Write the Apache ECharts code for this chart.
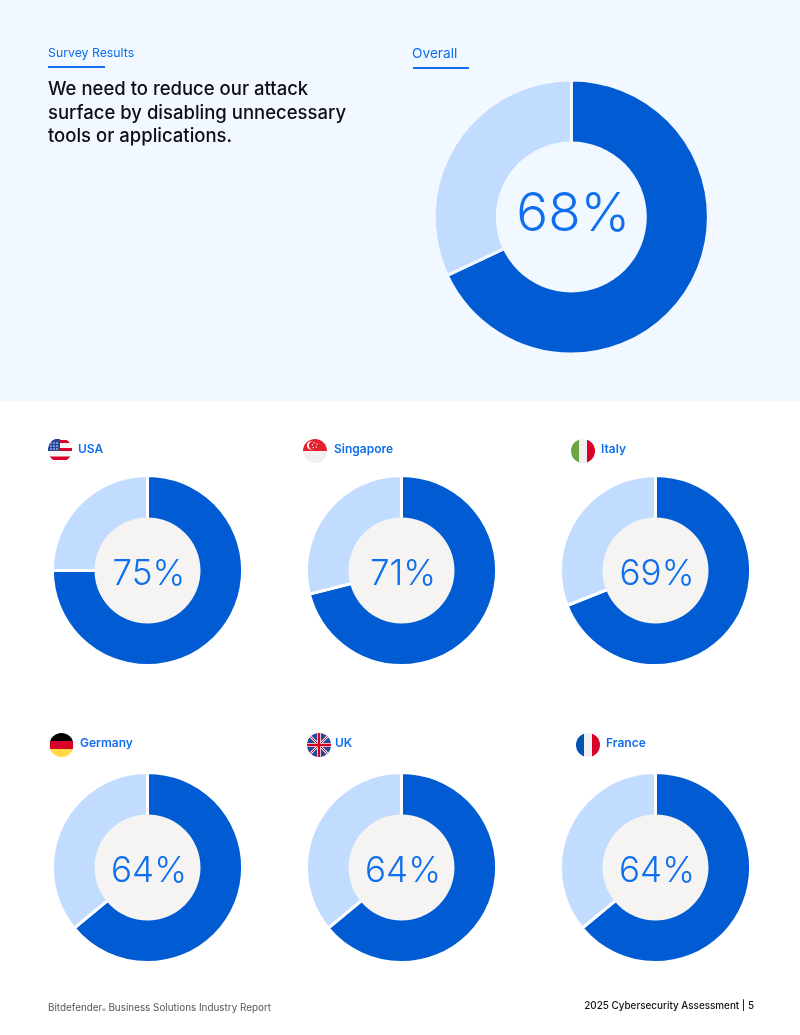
<!DOCTYPE html>
<html>
<head>
<meta charset="utf-8">
<style>html,body{margin:0;padding:0;background:#fff}#chart{width:800px;height:1035px}</style>
<script src="https://cdn.jsdelivr.net/npm/echarts@6/dist/echarts.min.js"></script>
</head>
<body>
<div id="chart"></div>
<script>
// Survey share agreeing with the statement, overall and per country
const overallValue = 68;
const countries = ['USA', 'Singapore', 'Italy', 'Germany', 'UK', 'France'];
const countryValues = [75, 71, 69, 64, 64, 64];
const countryCenters = [[147.5, 570.5], [401.5, 570.5], [655.5, 570.5], [147.5, 867.5], [401.5, 867.5], [655.5, 867.5]];
const labelPositions = [[78, 449], [334, 449], [601, 449], [80, 743], [335, 743], [606, 743]];
const flagPositions = [[60, 450], [315, 451], [583, 451], [61.5, 745], [319, 745], [588, 745]];
const headline = 'We need to reduce our attack\nsurface by disabling unnecessary\ntools or applications.';

const DARK = '#015bd3', LIGHT = '#c2dcff', ACCENT = '#0f6fec', PANEL = '#f2f8ff', HOLE = '#f5f4f2';
const FONT = 'Inter, Roboto, "Noto Sans", sans-serif';
const GAP = 3;

// Flags are small round SVGs, 24 units across
function svgFlag(body) {
  const svg = '<svg xmlns="http://www.w3.org/2000/svg" width="96" height="96" viewBox="0 0 24 24">' +
    '<defs><clipPath id="c"><circle cx="12" cy="12" r="12"/></clipPath></defs><g clip-path="url(#c)">' + body + '</g></svg>';
  return 'data:image/svg+xml;charset=utf-8,' + encodeURIComponent(svg);
}
const flagArt = {
  USA: svgFlag('<rect y="1" width="24" height="21.5" fill="#f4f4f4"/>' +
    '<rect y="2" width="24" height="3" fill="#d80027"/><rect y="10" width="24" height="3" fill="#d80027"/>' +
    '<rect y="18.5" width="24" height="3.5" fill="#d80027"/>' +
    '<rect y="1" width="12" height="12" fill="#234a9a"/>' +
    '<g fill="#e8eefc"><circle cx="3" cy="5" r=".8"/><circle cx="6" cy="5" r=".8"/><circle cx="9" cy="5" r=".8"/>' +
    '<circle cx="3" cy="8" r=".8"/><circle cx="6" cy="8" r=".8"/><circle cx="9" cy="8" r=".8"/>' +
    '<circle cx="3" cy="11" r=".8"/><circle cx="6" cy="11" r=".8"/><circle cx="9" cy="11" r=".8"/></g>'),
  Singapore: svgFlag('<rect width="24" height="24" fill="#f0f0f0"/><rect width="24" height="12" fill="#e8202e"/>' +
    '<circle cx="8" cy="6.5" r="4" fill="#fff"/><circle cx="9.6" cy="6.5" r="3.7" fill="#e8202e"/>' +
    '<g fill="#fff"><circle cx="11" cy="3.8" r=".7"/><circle cx="14" cy="5" r=".7"/><circle cx="13.4" cy="8" r=".7"/><circle cx="10.4" cy="8.6" r=".7"/><circle cx="9.4" cy="6" r=".7"/></g>'),
  Italy: svgFlag('<rect width="8" height="24" fill="#6da544"/><rect x="8" width="8" height="24" fill="#f0f0f0"/><rect x="16" width="8" height="24" fill="#d80027"/>'),
  Germany: svgFlag('<rect width="24" height="8" fill="#000"/><rect y="8" width="24" height="8" fill="#d80027"/><rect y="16" width="24" height="8" fill="#ffda44"/>'),
  UK: svgFlag('<rect width="24" height="24" fill="#234a9a"/>' +
    '<path d="M0 0L24 24M24 0L0 24" stroke="#f0f0f0" stroke-width="2.6"/><path d="M0 0L24 24M24 0L0 24" stroke="#d80027" stroke-width="1"/>' +
    '<path d="M12 0V24M0 12H24" stroke="#f0f0f0" stroke-width="4"/><path d="M12 0V24M0 12H24" stroke="#d80027" stroke-width="2.4"/>'),
  France: svgFlag('<rect width="8" height="24" fill="#0052b4"/><rect x="8" width="8" height="24" fill="#f0f0f0"/><rect x="16" width="8" height="24" fill="#d80027"/>')
};

// One donut. The slice outline separates the two slices; the ring is oversized by half
// the outline so that the outer stroke melts into the background and the inner one
// sits under the hole, which carries the value label on top.
function donut(value, center, outer, inner, pageColor, holeColor, fontSize, labelShift) {
  const ring = {
    type: 'pie', silent: true, center: center, radius: [inner - GAP, outer + GAP / 2], startAngle: 90, clockwise: true, z: 2,
    label: { show: false }, labelLine: { show: false },
    itemStyle: { borderColor: pageColor, borderWidth: GAP },
    data: [
      { value: value, itemStyle: { color: DARK } },
      { value: 100 - value, itemStyle: { color: LIGHT } }
    ]
  };
  const hole = {
    type: 'pie', silent: true, center: center, radius: [0, inner], z: 3,
    labelLine: { show: false },
    label: { show: true, position: 'center', formatter: '{c}%', color: ACCENT, fontFamily: FONT,
      fontSize: fontSize, fontWeight: 300, offset: labelShift },
    itemStyle: { color: holeColor }, data: [{ value: value }]
  };
  return [ring, hole];
}

const series = donut(overallValue, [571.3, 217], 135.6, 75.5, PANEL, PANEL, 53, [2, -2]);
countries.forEach((name, i) => {
  series.push(...donut(countryValues[i], countryCenters[i], 93.6, 53, '#ffffff', HOLE, 35, [1.5, 4]));
});

const graphic = [
  { type: 'rect', shape: { x: 0, y: 0, width: 800, height: 401 }, style: { fill: PANEL }, z: -10 },
  { type: 'text', x: 48, y: 53, style: { text: 'Survey Results', fill: ACCENT, font: '400 12.3px ' + FONT, textVerticalAlign: 'middle' } },
  { type: 'rect', shape: { x: 48, y: 66, width: 57, height: 2 }, style: { fill: ACCENT } },
  { type: 'text', x: 412, y: 54, style: { text: 'Overall', fill: ACCENT, font: '400 13.7px ' + FONT, textVerticalAlign: 'middle' } },
  { type: 'rect', shape: { x: 413, y: 67, width: 56, height: 2 }, style: { fill: ACCENT } },
  { type: 'text', x: 48, y: 78, style: { text: headline, fill: '#0d0d12', font: '500 18.5px ' + FONT, lineHeight: 23.5 } },
  { type: 'text', x: 48, y: 1008, style: {
      text: '{main|Bitdefender}{mark|®}{main| Business Solutions Industry Report}',
      textVerticalAlign: 'middle',
      rich: {
        main: { fill: '#55555c', font: '400 9.9px ' + FONT },
        mark: { fill: '#55555c', font: '400 5px ' + FONT, verticalAlign: 'bottom' }
      } } },
  { type: 'text', x: 754, y: 1006, style: { text: '2025 Cybersecurity Assessment | 5', fill: '#111116', font: '500 9.9px ' + FONT, textAlign: 'right', textVerticalAlign: 'middle' } }
];
countries.forEach((name, i) => {
  const [fx, fy] = flagPositions[i], [lx, ly] = labelPositions[i];
  graphic.push({ type: 'image', style: { image: flagArt[name], x: fx - 12, y: fy - 12, width: 24, height: 24 } });
  graphic.push({ type: 'text', x: lx, y: ly, style: { text: name, fill: ACCENT, font: '600 12px ' + FONT, textVerticalAlign: 'middle' } });
});

const chart = echarts.init(document.getElementById('chart'), null, { renderer: 'canvas' });
chart.setOption({ animation: false, backgroundColor: '#ffffff', graphic: graphic, series: series });
</script>
</body>
</html>
